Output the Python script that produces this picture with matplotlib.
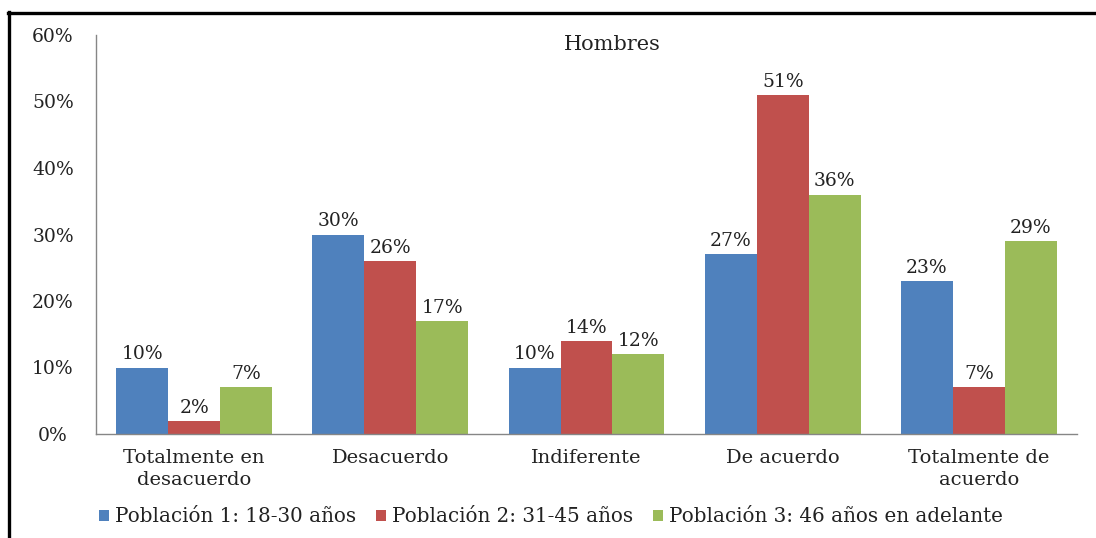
import matplotlib
matplotlib.use("Agg")
import matplotlib.pyplot as plt
from matplotlib.lines import Line2D
from matplotlib.patches import Patch
import numpy as np

categories = ["Totalmente en\ndesacuerdo", "Desacuerdo", "Indiferente", "De acuerdo", "Totalmente de\nacuerdo"]
series_names = ["Población 1: 18-30 años", "Población 2: 31-45 años", "Población 3: 46 años en adelante"]
pob1 = [10, 30, 10, 27, 23]
pob2 = [2, 26, 14, 51, 7]
pob3 = [7, 17, 12, 36, 29]
y_ticks = [0, 10, 20, 30, 40, 50, 60]
title = "Hombres"

colors = ["#4F81BD", "#C0504D", "#9BBB59"]
axis_color = "#868686"
text_color = "#222222"

plt.rcParams["font.family"] = ["DejaVu Serif"]
fs = 13.5

fig = plt.figure(figsize=(10.96, 5.38), dpi=100)
ax = fig.add_axes([96 / 1096, 1 - 434 / 538, (1077 - 96) / 1096, (434 - 35) / 538])

x = np.arange(len(categories))
w = 0.265
for i, (vals, c, name) in enumerate(zip([pob1, pob2, pob3], colors, series_names)):
    bars = ax.bar(x + (i - 1) * w, vals, width=w, color=c, label=name, zorder=2)
    ax.bar_label(bars, labels=[f"{v}%" for v in vals], padding=3,
                 fontsize=fs, color=text_color)

ax.set_xlim(-0.5, len(categories) - 0.5)
ax.set_ylim(0, 60)
ax.set_yticks(y_ticks)
ax.set_yticklabels([f"{t}%" for t in y_ticks])
ax.set_xticks(x)
ax.set_xticklabels(categories, linespacing=1.3)

ax.tick_params(axis="y", length=0, pad=31, labelsize=fs, labelcolor=text_color)
ax.tick_params(axis="x", length=0, pad=11, labelsize=fs + 0.5, labelcolor=text_color)
for t in ax.get_yticklabels():
    t.set_horizontalalignment("center")

for s in ["top", "right"]:
    ax.spines[s].set_visible(False)
for s in ["left", "bottom"]:
    ax.spines[s].set_color(axis_color)
    ax.spines[s].set_linewidth(1.0)

fig.text(612 / 1096, 1 - 44 / 538, title, ha="center", va="center",
         fontsize=fs + 1.5, color=text_color)

handles = [Patch(facecolor=c, edgecolor="none") for c in colors]
fig.legend(handles, series_names, loc="center", bbox_to_anchor=(551 / 1096, 1 - 517 / 538),
           ncol=3, frameon=False, fontsize=14.3, handlelength=0.5, handleheight=0.5,
           handletextpad=0.3, columnspacing=1.0, labelcolor=text_color)

# outer frame lines (top and left)
fig.add_artist(Line2D([8 / 1096, 1.0], [1 - 13 / 538, 1 - 13 / 538], color="black", lw=2.4,
                      transform=fig.transFigure))
fig.add_artist(Line2D([9 / 1096, 9 / 1096], [0.0, 1 - 12 / 538], color="black", lw=2.4,
                      transform=fig.transFigure))

fig.savefig("out.png", dpi=100)
